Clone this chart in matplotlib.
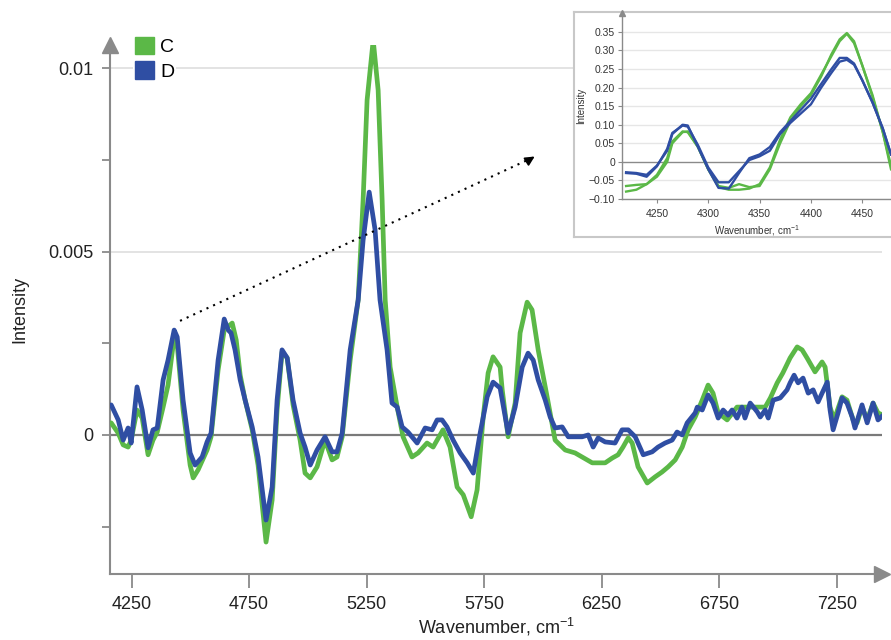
import matplotlib
matplotlib.use("Agg")
import matplotlib.pyplot as plt
from matplotlib.patches import Patch

plt.rcParams['font.family'] = ['Liberation Sans', 'DejaVu Sans']
plt.rcParams['mathtext.fontset'] = 'custom'
plt.rcParams['mathtext.rm'] = 'Liberation Sans'
plt.rcParams['axes.unicode_minus'] = True

# --- main spectra ---
wn_c = [4163, 4193, 4214, 4235, 4248, 4273, 4295, 4320, 4341, 4359, 4384, 4405, 4431, 4444,
        4469, 4499, 4512, 4533, 4571, 4588, 4618, 4644, 4678, 4695, 4712, 4733, 4763, 4788,
        4822, 4848, 4869, 4890, 4912, 4937, 4967, 4988, 5010, 5039, 5073, 5103, 5124, 5146,
        5180, 5214, 5235, 5252, 5278, 5299, 5316, 5329, 5350, 5380, 5405, 5443, 5469, 5507,
        5533, 5575, 5605, 5635, 5661, 5695, 5720, 5746, 5767, 5788, 5818, 5827, 5852, 5882,
        5903, 5933, 5954, 5980, 6018, 6052, 6095, 6137, 6210, 6265, 6295, 6320, 6341, 6363,
        6380, 6405, 6444, 6478, 6507, 6533, 6563, 6593, 6618, 6648, 6678, 6703, 6724, 6746,
        6784, 6826, 6869, 6912, 6946, 6968, 6997, 7021, 7052, 7082, 7103, 7124, 7158, 7188,
        7201, 7222, 7239, 7273, 7294, 7320, 7337, 7358, 7380, 7405, 7426, 7448]
int_c = [0.00033, 0.00005, -0.00027, -0.00033, -0.00014, 0.00068, 0.00046, -0.00054, -0.00014,
         0.00008, 0.00076, 0.00136, 0.00267, 0.00245, 0.00068, -0.00082, -0.00117, -0.00095,
         -0.00041, -0.00005, 0.00177, 0.00286, 0.00305, 0.00259, 0.00163, 0.00095, 0.00014,
         -0.00082, -0.00292, -0.00177, 0.00068, 0.00226, 0.00210, 0.00082, -0.00014, -0.00104,
         -0.00117, -0.00087, -0.00014, -0.00068, -0.00060, -0.00005, 0.00204, 0.00368, 0.00640,
         0.00913, 0.01076, 0.00940, 0.00640, 0.00368, 0.00185, 0.00076, -0.00005, -0.00060,
         -0.00049, -0.00022, -0.00033, 0.00014, -0.00033, -0.00142, -0.00163, -0.00223,
         -0.00150, 0.00049, 0.00169, 0.00213, 0.00185, 0.00123, -0.00005, 0.00087, 0.00278,
         0.00362, 0.00341, 0.00232, 0.00104, -0.00014, -0.00041, -0.00049, -0.00076, -0.00076,
         -0.00063, -0.00054, -0.00033, -0.00008, -0.00022, -0.00087, -0.00131, -0.00114,
         -0.00101, -0.00087, -0.00068, -0.00033, 0.00014, 0.00049, 0.00095, 0.00136, 0.00114,
         0.00060, 0.00041, 0.00076, 0.00076, 0.00076, 0.00076, 0.00101, 0.00142, 0.00169,
         0.00210, 0.00240, 0.00232, 0.00210, 0.00172, 0.00199, 0.00185, 0.00076, 0.00041,
         0.00104, 0.00095, 0.00041, 0.00033, 0.00076, 0.00041, 0.00087, 0.00060, 0.00054]

wn_d = [4163, 4193, 4214, 4235, 4248, 4273, 4295, 4320, 4341, 4359, 4384, 4405, 4431, 4444,
        4469, 4499, 4520, 4550, 4571, 4588, 4618, 4644, 4661, 4673, 4690, 4712, 4733, 4763,
        4788, 4822, 4848, 4869, 4890, 4912, 4937, 4967, 4988, 5010, 5039, 5073, 5103, 5124,
        5146, 5180, 5214, 5235, 5261, 5286, 5307, 5337, 5358, 5380, 5401, 5426, 5465, 5499,
        5529, 5550, 5571, 5592, 5618, 5648, 5678, 5704, 5733, 5763, 5788, 5818, 5827, 5852,
        5882, 5912, 5937, 5959, 5980, 6010, 6031, 6052, 6082, 6108, 6167, 6193, 6214, 6235,
        6265, 6307, 6337, 6363, 6393, 6427, 6465, 6490, 6520, 6550, 6571, 6593, 6614, 6648,
        6657, 6678, 6703, 6724, 6746, 6767, 6788, 6805, 6826, 6847, 6860, 6882, 6912, 6925,
        6946, 6959, 6980, 7010, 7039, 7052, 7069, 7086, 7107, 7129, 7150, 7171, 7188, 7210,
        7222, 7235, 7256, 7273, 7294, 7316, 7328, 7358, 7380, 7405, 7426, 7448]
int_d = [0.00082, 0.00041, -0.00014, 0.00019, -0.00022, 0.00131, 0.00068, -0.00035, 0.00014,
         0.00019, 0.00150, 0.00204, 0.00286, 0.00267, 0.00095, -0.00049, -0.00082, -0.00060,
         -0.00019, 0.00005, 0.00204, 0.00316, 0.00286, 0.00278, 0.00232, 0.00150, 0.00095,
         0.00022, -0.00060, -0.00232, -0.00142, 0.00095, 0.00232, 0.00210, 0.00095, 0.00005,
         -0.00033, -0.00082, -0.00041, -0.00005, -0.00046, -0.00046, 0.00005, 0.00232, 0.00368,
         0.00531, 0.00662, 0.00559, 0.00368, 0.00232, 0.00087, 0.00076, 0.00022, 0.00008,
         -0.00022, 0.00019, 0.00014, 0.00041, 0.00041, 0.00022, -0.00014, -0.00049, -0.00076,
         -0.00104, 0.00005, 0.00104, 0.00144, 0.00128, 0.00095, 0.00005, 0.00076, 0.00185,
         0.00223, 0.00204, 0.00150, 0.00095, 0.00049, 0.00019, 0.00022, -0.00005, -0.00005,
         0.00000, -0.00033, -0.00008, -0.00019, -0.00022, 0.00014, 0.00014, -0.00005, -0.00054,
         -0.00046, -0.00033, -0.00022, -0.00014, 0.00008, 0.00000, 0.00033, 0.00060, 0.00076,
         0.00068, 0.00109, 0.00087, 0.00046, 0.00068, 0.00054, 0.00068, 0.00046, 0.00076,
         0.00046, 0.00087, 0.00063, 0.00049, 0.00068, 0.00046, 0.00095, 0.00101, 0.00123,
         0.00142, 0.00163, 0.00142, 0.00155, 0.00114, 0.00123, 0.00090, 0.00114, 0.00144,
         0.00068, 0.00014, 0.00060, 0.00101, 0.00087, 0.00049, 0.00019, 0.00082, 0.00033,
         0.00087, 0.00041, 0.00054]

# --- inset spectra (two replicates each) ---
wn_ins = [4220, 4230, 4240, 4250, 4260, 4265, 4275, 4280, 4290, 4300, 4310, 4320, 4330, 4340,
          4350, 4360, 4370, 4380, 4390, 4400, 4410, 4420, 4428, 4435, 4442, 4450, 4460, 4470, 4478]
c1_ins = [-0.065, -0.062, -0.060, -0.040, 0.000, 0.050, 0.080, 0.082, 0.040, -0.020, -0.065,
          -0.070, -0.060, -0.068, -0.065, -0.020, 0.050, 0.110, 0.150, 0.180, 0.230, 0.290,
          0.330, 0.347, 0.325, 0.260, 0.180, 0.080, -0.010]
c2_ins = [-0.080, -0.075, -0.060, -0.035, 0.010, 0.055, 0.082, 0.080, 0.040, -0.020, -0.068,
          -0.075, -0.075, -0.072, -0.060, -0.015, 0.060, 0.120, 0.155, 0.185, 0.235, 0.285,
          0.325, 0.345, 0.320, 0.260, 0.175, 0.080, -0.020]
d1_ins = [-0.028, -0.030, -0.035, -0.010, 0.030, 0.075, 0.100, 0.098, 0.040, -0.020, -0.070,
          -0.072, -0.030, 0.010, 0.020, 0.040, 0.080, 0.110, 0.140, 0.170, 0.210, 0.250,
          0.280, 0.280, 0.265, 0.220, 0.160, 0.090, 0.020]
d2_ins = [-0.030, -0.032, -0.040, -0.012, 0.035, 0.078, 0.098, 0.095, 0.045, -0.015, -0.055,
          -0.055, -0.025, 0.005, 0.015, 0.030, 0.075, 0.105, 0.130, 0.155, 0.200, 0.240,
          0.270, 0.275, 0.262, 0.220, 0.160, 0.090, 0.020]

x_ticks = [4250, 4750, 5250, 5750, 6250, 6750, 7250]
y_ticks = [0, 0.005, 0.01]
y_tick_labels = ['0', '0.005', '0.01']
ins_x_ticks = [4250, 4300, 4350, 4400, 4450]
ins_y_ticks = [-0.10, -0.05, 0, 0.05, 0.10, 0.15, 0.20, 0.25, 0.30, 0.35]

green = '#5bb847'
blue = '#2f4ea3'
axis_gray = '#8a8a8a'

W, H = 891, 640
fig = plt.figure(figsize=(W / 100, H / 100), dpi=100)

# main axes
ax = fig.add_axes([110 / W, 1 - 574 / H, 772 / W, 529 / H])
ax.plot(wn_c, int_c, color=green, lw=3.4, solid_joinstyle='round', solid_capstyle='round', zorder=3)
ax.plot(wn_d, int_d, color=blue, lw=3.4, solid_joinstyle='round', solid_capstyle='round', zorder=4)
ax.set_xlim(4158, 7443)
ax.set_ylim(-0.00379, 0.01063)

for v in [0.005, 0.01]:
    ax.axhline(v, color='#e0e0e0', lw=1.3, zorder=1)
ax.axhline(0, color='#7a7a7a', lw=1.6, zorder=2)

for s in ['top', 'right']:
    ax.spines[s].set_visible(False)
for s in ['left', 'bottom']:
    ax.spines[s].set_color(axis_gray)
    ax.spines[s].set_linewidth(1.5)
ax.plot(0, 1, marker='^', color=axis_gray, ms=12, transform=ax.transAxes, clip_on=False)
ax.plot(1, 0, marker='>', color=axis_gray, ms=12, transform=ax.transAxes, clip_on=False)

ax.set_xticks(x_ticks)
ax.set_yticks(y_ticks)
ax.set_yticklabels(y_tick_labels)
ax.set_yticks([-0.0025, 0.0025, 0.0075], minor=True)
ax.tick_params(axis='x', length=10, width=1.3, color=axis_gray, labelsize=13, pad=6,
               labelcolor='#222222')
ax.tick_params(axis='y', which='major', length=6, width=1.3, color=axis_gray, labelsize=13,
               pad=6, labelcolor='#222222')
ax.tick_params(axis='y', which='minor', length=6, width=1.3, color=axis_gray)
ax.set_xlabel(r'Wavenumber, cm$^{-1}$', fontsize=13, color='#222222', labelpad=2)
ax.set_ylabel('Intensity', fontsize=13, color='#222222', labelpad=14)

# dotted pointer towards the inset
ax.plot([4456, 5960], [0.00311, 0.00757], color='black', lw=1.5, ls=(0, (1, 2.5)), zorder=5)
ax.annotate('', xy=(5975, 0.00763), xytext=(5930, 0.00745),
            arrowprops=dict(arrowstyle='-|>', color='black', lw=1.2, mutation_scale=14),
            zorder=5)

fig.legend(handles=[Patch(color=green, label='C'), Patch(color=blue, label='D')],
           loc='upper left', bbox_to_anchor=(133 / W, 1 - 35 / H), fontsize=14,
           frameon=True, facecolor='white', edgecolor='none', framealpha=1,
           handlelength=1.0, handleheight=1.0, handletextpad=0.3, labelspacing=0.25,
           borderpad=0.1, borderaxespad=0)

# inset frame
box = fig.add_axes([574 / W, 1 - 237 / H, 330 / W, 225 / H])
box.set_xticks([])
box.set_yticks([])
for s in box.spines.values():
    s.set_color('#c8c8c8')
    s.set_linewidth(1.5)

# inset axes
ins = fig.add_axes([622 / W, 1 - 199 / H, 269 / W, 186 / H])
ins.patch.set_alpha(0)
for v in ins_y_ticks:
    if v != 0:
        ins.axhline(v, color='#e6e6e6', lw=1.0, zorder=1)
ins.axhline(0, color='#8a8a8a', lw=1.0, zorder=2)
ins.plot(wn_ins, c1_ins, color=green, lw=1.7, zorder=3)
ins.plot(wn_ins, c2_ins, color=green, lw=1.7, zorder=3)
ins.plot(wn_ins, d1_ins, color=blue, lw=1.7, zorder=4)
ins.plot(wn_ins, d2_ins, color=blue, lw=1.7, zorder=4)
ins.set_xlim(4216, 4478)
ins.set_ylim(-0.10, 0.401)
for s in ['top', 'right']:
    ins.spines[s].set_visible(False)
for s in ['left', 'bottom']:
    ins.spines[s].set_color(axis_gray)
    ins.spines[s].set_linewidth(1.0)
ins.plot(0, 1, marker='^', color=axis_gray, ms=5, transform=ins.transAxes, clip_on=False)
ins.set_xticks(ins_x_ticks)
ins.set_yticks(ins_y_ticks)
ins.set_yticklabels(['0' if v == 0 else f'{v:.2f}'.replace('-', '\u2212') for v in ins_y_ticks])
ins.tick_params(axis='both', length=3, width=0.8, color=axis_gray, labelsize=7.5, pad=2,
                labelcolor='#333333')
ins.tick_params(axis='x', pad=4)
ins.set_xlabel(r'Wavenumber, cm$^{-1}$', fontsize=7, color='#333333', labelpad=3)
ins.set_ylabel('Intensity', fontsize=7, color='#333333', labelpad=2)

fig.savefig('out.png', dpi=100)
